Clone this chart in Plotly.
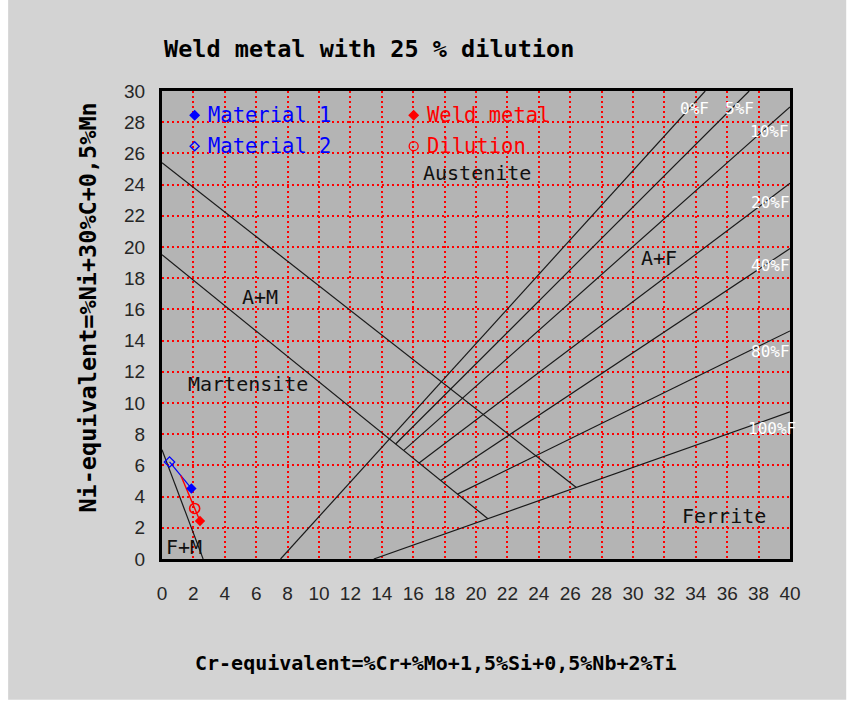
import plotly.graph_objects as go

# ---- Schaeffler diagram boundary lines (Cr-eq, Ni-eq end points) ----
boundary_names = ["A/A+M", "M/A+M", "F+M", "0%F", "5%F", "10%F", "20%F", "40%F", "80%F", "100%F"]
boundary_x0 = [0.0, 0.0, 0.0, 7.55, 14.88, 15.40, 16.37, 17.75, 18.82, 13.49]
boundary_y0 = [25.4, 19.5, 7.0, 0.0, 7.37, 6.96, 6.16, 5.03, 4.16, 0.0]
boundary_x1 = [26.39, 20.76, 2.62, 34.6, 37.4, 40.0, 40.0, 40.0, 40.0, 40.0]
boundary_y1 = [4.58, 2.58, 0.0, 30.0, 30.0, 28.98, 24.08, 19.9, 14.62, 9.43]

# ---- base materials, their mixture, weld metal and diluted weld ----
material_names = ["Material 1", "Material 2"]
material_cr = [1.87, 0.48]
material_ni = [4.52, 6.22]
mix_cr, mix_ni = 1.20, 5.35
weld_cr, weld_ni = 2.42, 2.44
dilution_cr, dilution_ni = 2.08, 3.24

# ---- region names ----
region_names = ["Austenite", "A+F", "A+M", "Martensite", "Ferrite", "F+M"]
region_x = [20.06, 31.63, 6.24, 5.47, 35.8, 1.38]
region_y = [24.73, 19.28, 16.78, 11.2, 2.74, 0.76]

# ---- ferrite percentage labels ----
ferrite_labels = ["0%F", "5%F", "10%F", "20%F", "40%F", "80%F", "100%F"]
ferrite_x = [33.9, 36.8, 38.7, 38.74, 38.74, 38.74, 38.85]
ferrite_y = [28.9, 28.9, 27.42, 22.87, 18.83, 13.32, 8.39]

x_ticks = list(range(0, 41, 2))
y_ticks = list(range(0, 31, 2))

MONO = "DejaVu Sans Mono"
BLUE = "#0000ff"
RED = "#ff0000"

fig = go.Figure()

for name, xa, ya, xb, yb in zip(boundary_names, boundary_x0, boundary_y0, boundary_x1, boundary_y1):
    fig.add_trace(go.Scatter(x=[xa, xb], y=[ya, yb], mode="lines", name=name,
                             line=dict(color="#1a1a1a", width=1.2), hoverinfo="skip"))

# line joining the two base materials
fig.add_trace(go.Scatter(x=material_cr, y=material_ni, mode="lines",
                         line=dict(color=BLUE, width=1.2), hoverinfo="skip"))
# mixing line from base-material mixture to weld metal
fig.add_trace(go.Scatter(x=[mix_cr, weld_cr], y=[mix_ni, weld_ni], mode="lines",
                         line=dict(color=RED, width=1.4), hoverinfo="skip"))

fig.add_trace(go.Scatter(x=[material_cr[0]], y=[material_ni[0]], mode="markers", name=material_names[0],
                         marker=dict(symbol="diamond", size=8, color=BLUE)))
fig.add_trace(go.Scatter(x=[material_cr[1]], y=[material_ni[1]], mode="markers", name=material_names[1],
                         marker=dict(symbol="diamond-open", size=8, color=BLUE, line=dict(width=1.2))))
fig.add_trace(go.Scatter(x=[weld_cr], y=[weld_ni], mode="markers", name="Weld metal",
                         marker=dict(symbol="diamond", size=8, color=RED)))
fig.add_trace(go.Scatter(x=[dilution_cr], y=[dilution_ni], mode="markers", name="Dilution",
                         marker=dict(symbol="circle-open", size=10, color=RED, line=dict(width=1.6))))

# in-plot key
key_items = [("Material 1", "diamond", BLUE, 2.08, 28.44),
             ("Material 2", "diamond-open", BLUE, 2.08, 26.46),
             ("Weld metal", "diamond", RED, 16.03, 28.44),
             ("Dilution", "circle-open", RED, 16.03, 26.46)]
for label, sym, col, kx, ky in key_items:
    fig.add_trace(go.Scatter(x=[kx], y=[ky], mode="markers",
                             marker=dict(symbol=sym, size=7 if "circle" not in sym else 9,
                                         color=col, line=dict(width=1.3, color=col)),
                             hoverinfo="skip"))
    fig.add_annotation(x=kx + 0.75, y=ky, xref="x", yref="y", text=label, showarrow=False,
                       xanchor="left", yanchor="middle", font=dict(family=MONO, size=20.5, color=col))

for t, rx, ry in zip(region_names, region_x, region_y):
    fig.add_annotation(x=rx, y=ry, text=t, showarrow=False, xanchor="center", yanchor="middle",
                       font=dict(family=MONO, size=20, color="#111111"))

for t, fx, fy in zip(ferrite_labels, ferrite_x, ferrite_y):
    fig.add_annotation(x=fx, y=fy, text=t, showarrow=False, xanchor="center", yanchor="middle",
                       font=dict(family=MONO, size=16, color="#ffffff"))

# titles
fig.add_annotation(x=0.0, y=1.09, xref="paper", yref="paper", text="<b>Weld metal with 25 % dilution</b>",
                   showarrow=False, xanchor="left", yanchor="middle",
                   font=dict(family=MONO, size=23.5, color="#000000"))
fig.add_annotation(x=0.437, y=-0.222, xref="paper", yref="paper",
                   text="<b>Cr-equivalent=%Cr+%Mo+1,5%Si+0,5%Nb+2%Ti</b>",
                   showarrow=False, xanchor="center", yanchor="middle",
                   font=dict(family=MONO, size=20, color="#000000"))
fig.add_annotation(x=-0.118, y=0.537, xref="paper", yref="paper",
                   text="<b>Ni-equivalent=%Ni+30%C+0,5%Mn</b>", textangle=-90,
                   showarrow=False, xanchor="center", yanchor="middle",
                   font=dict(family=MONO, size=23.5, color="#000000"))

# white strips around the grey panel
for x0, x1, y0, y1 in [(-0.3, -0.245, -0.35, 1.3), (1.0895, 1.2, -0.35, 1.3), (-0.3, 1.2, -0.35, -0.301)]:
    fig.add_shape(type="rect", xref="paper", yref="paper", x0=x0, x1=x1, y0=y0, y1=y1,
                  fillcolor="#ffffff", line=dict(width=0), layer="below")

grid = dict(showgrid=True, gridcolor="#ff0000", gridwidth=1.7, griddash="1.7px,3.3px",
            zeroline=False, showline=True, linecolor="#000000", linewidth=3, mirror=True,
            ticks="", tickfont=dict(family="Liberation Sans", size=19, color="#262626"))

fig.update_xaxes(range=[0, 40], tickvals=x_ticks, ticktext=[str(v) for v in x_ticks],
                 ticklabelstandoff=15, **grid)
fig.update_yaxes(range=[0, 30], tickvals=y_ticks, ticktext=[str(v) for v in y_ticks],
                 ticklabelstandoff=10, **grid)

fig.update_layout(width=854, height=707, showlegend=False,
                  margin=dict(l=162, r=64, t=91, b=148),
                  paper_bgcolor="#d3d3d3", plot_bgcolor="#b4b4b4",
                  font=dict(family=MONO))

fig.write_html("out.html")
